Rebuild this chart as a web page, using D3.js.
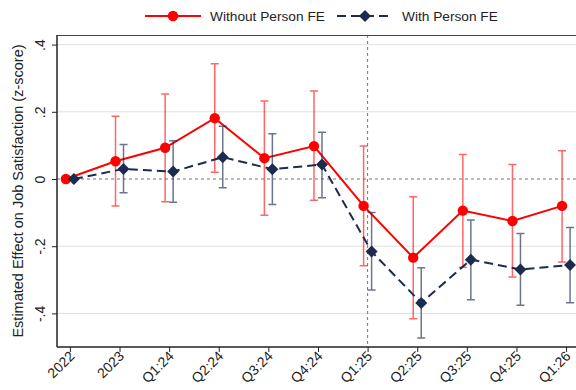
<!DOCTYPE html>
<html>
<head>
<meta charset="utf-8">
<script src="https://cdn.jsdelivr.net/npm/d3@7"></script>
<style>
body { margin: 0; background: #fff; }
text { font-family: "Liberation Sans", Arial, sans-serif; fill: #222; }
</style>
</head>
<body>
<script>
const width = 576;
const height = 390;

const periods = ['2022', '2023', 'Q1:24', 'Q2:24', 'Q3:24', 'Q4:24', 'Q1:25', 'Q2:25', 'Q3:25', 'Q4:25', 'Q1:26'];

// without person FE
const noFE = [0, 0.053, 0.093, 0.181, 0.062, 0.098, -0.080, -0.234, -0.094, -0.125, -0.080];
const noFElo = [0, -0.080, -0.068, 0.020, -0.108, -0.063, -0.258, -0.416, -0.263, -0.292, -0.247];
const noFEhi = [0, 0.187, 0.253, 0.343, 0.232, 0.262, 0.098, -0.053, 0.073, 0.043, 0.084];

// with person FE
const withFE = [0, 0.030, 0.022, 0.065, 0.029, 0.043, -0.216, -0.369, -0.240, -0.269, -0.256];
const withFElo = [0, -0.041, -0.069, -0.026, -0.076, -0.056, -0.330, -0.473, -0.359, -0.376, -0.368];
const withFEhi = [0, 0.103, 0.114, 0.157, 0.135, 0.139, -0.100, -0.264, -0.122, -0.162, -0.144];

const yTicks = [0.4, 0.2, 0, -0.2, -0.4];
const yTickLabels = ['.4', '.2', '0', '-.2', '-.4'];

const red = '#ff0000';
const navy = '#1c2b4e';

const svg = d3.select('body').append('svg').attr('width', width).attr('height', height);

const pLeft = 57, pTop = 35, pBottom = 347;

const xs = d3.scaleLinear().domain([-0.26, 10.2]).range([pLeft, width]);
const ys = d3.scaleLinear().domain([-0.5, 0.4286]).range([pBottom, pTop]);

// gridlines
svg.append('g')
	.selectAll('line')
	.data(yTicks.filter(d => d != 0))
	.enter()
	.append('line')
	.attr('x1', pLeft).attr('x2', width)
	.attr('y1', d => ys(d)).attr('y2', d => ys(d))
	.style('stroke', '#e0e0e0')
	.style('stroke-width', 1);

// reference lines
svg.append('line')
	.attr('x1', pLeft).attr('x2', width)
	.attr('y1', ys(0)).attr('y2', ys(0))
	.style('stroke', '#777').style('stroke-width', 1).style('stroke-dasharray', '3,3');

svg.append('line')
	.attr('x1', xs(6)).attr('x2', xs(6))
	.attr('y1', pTop).attr('y2', pBottom)
	.style('stroke', '#777').style('stroke-width', 1).style('stroke-dasharray', '3,3');

// top border
svg.append('line')
	.attr('x1', pLeft).attr('x2', width)
	.attr('y1', pTop + 0.5).attr('y2', pTop + 0.5)
	.style('stroke', '#444').style('stroke-width', 1.2);

// axes
const yaxis = d3.axisLeft(ys).tickValues(yTicks).tickFormat((d, i) => yTickLabels[i]).tickSize(5).tickSizeOuter(0);
const gy = svg.append('g').attr('transform', 'translate(' + pLeft + ',0)').call(yaxis);
gy.select('.domain').attr('d', 'M0,' + pTop + 'V' + pBottom).style('stroke', '#222').style('stroke-width', 1.5);
gy.selectAll('.tick line').style('stroke', '#222');
gy.selectAll('.tick text')
	.attr('x', 0).attr('y', 0).attr('dy', 0)
	.attr('transform', 'translate(-12,0) rotate(-90)')
	.style('text-anchor', 'middle')
	.style('font-size', '14px');

const xaxis = d3.axisBottom(xs).tickValues(d3.range(periods.length)).tickFormat(i => periods[i]).tickSize(5).tickSizeOuter(0);
const gx = svg.append('g').attr('transform', 'translate(0,' + pBottom + ')').call(xaxis);
gx.select('.domain').attr('d', 'M' + pLeft + ',0H' + width).style('stroke', '#222').style('stroke-width', 1.5);
gx.selectAll('.tick line').style('stroke', '#222');
gx.selectAll('.tick text')
	.attr('x', 0).attr('y', 0).attr('dy', 0)
	.attr('transform', 'translate(5,10) rotate(-45)')
	.style('text-anchor', 'end')
	.style('font-size', '14px');

svg.append('text')
	.attr('transform', 'translate(23,' + ((pTop + pBottom) / 2) + ') rotate(-90)')
	.style('text-anchor', 'middle')
	.style('font-size', '14.5px')
	.text('Estimated Effect on Job Satisfaction (z-score)');

// series drawing
function drawSeries(vals, lo, hi, off, color, ciOpacity, dash, marker) {
	const g = svg.append('g');
	const idx = d3.range(vals.length).filter(i => i > 0);
	const xp = i => xs(i) + off;

	g.selectAll('.ci')
		.data(idx)
		.enter()
		.append('path')
		.attr('d', i => 'M' + xp(i) + ',' + ys(lo[i]) + 'V' + ys(hi[i]) +
			'M' + (xp(i) - 4) + ',' + ys(lo[i]) + 'h8' +
			'M' + (xp(i) - 4) + ',' + ys(hi[i]) + 'h8')
		.style('fill', 'none')
		.style('stroke', color)
		.style('stroke-opacity', ciOpacity)
		.style('stroke-width', 1.5);

	const line = d3.line().x((d, i) => xp(i)).y(d => ys(d));
	g.append('path')
		.datum(vals)
		.attr('d', line)
		.style('fill', 'none')
		.style('stroke', color)
		.style('stroke-width', 2)
		.style('stroke-dasharray', dash);

	g.selectAll('.pt')
		.data(vals)
		.enter()
		.append('path')
		.attr('transform', (d, i) => 'translate(' + xp(i) + ',' + ys(d) + ')')
		.attr('d', marker)
		.style('fill', color);
}

const circle = d3.symbol().type(d3.symbolCircle).size(85)();
const diamond = 'M0,-6L6,0L0,6L-6,0Z';

drawSeries(noFE, noFElo, noFEhi, -4, red, 0.6, null, circle);
drawSeries(withFE, withFElo, withFEhi, 4, navy, 0.65, '9,5', diamond);

// legend
const legend = [
	{label: 'Without Person FE', color: red, dash: null, marker: circle, x: 145},
	{label: 'With Person FE', color: navy, dash: '9,5', marker: diamond, x: 337}
];
const lg = svg.append('g').selectAll('g').data(legend).enter().append('g')
	.attr('transform', d => 'translate(' + d.x + ',16)');
lg.append('line')
	.attr('x1', 0).attr('x2', 56).attr('y1', 0).attr('y2', 0)
	.style('stroke', d => d.color).style('stroke-width', 2)
	.style('stroke-dasharray', d => d.dash);
lg.append('path')
	.attr('transform', 'translate(28,0)')
	.attr('d', d => d.marker)
	.style('fill', d => d.color);
lg.append('text')
	.attr('x', 65).attr('y', 5)
	.style('font-size', '13.7px')
	.text(d => d.label);
</script>
</body>
</html>
